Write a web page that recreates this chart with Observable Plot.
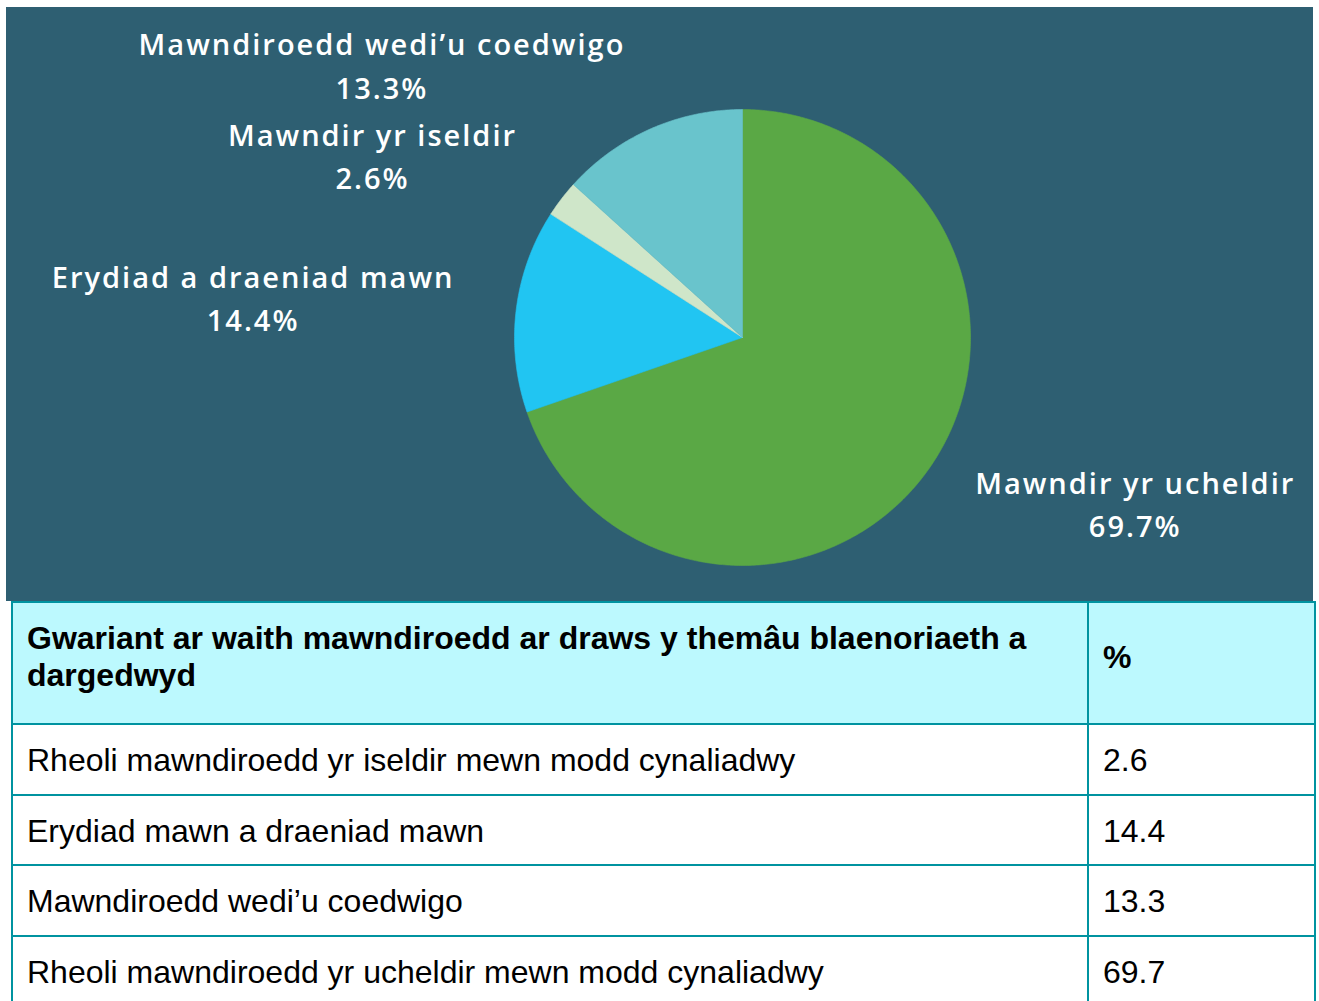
<!DOCTYPE html>
<html>
<head>
<meta charset="utf-8">
<script src="https://cdn.jsdelivr.net/npm/d3@7"></script>
<script src="https://cdn.jsdelivr.net/npm/@observablehq/plot@0.6"></script>
<style>
  html, body { margin: 0; padding: 0; background: #ffffff; }
  #wrap { position: relative; width: 1319px; height: 1001px; overflow: hidden; }
  #chart { position: absolute; left: 6px; top: 7px; }
  #chart svg text { letter-spacing: 2px; }
  table { position: absolute; left: 11px; top: 601px; border-collapse: collapse; table-layout: fixed;
          font-family: "Liberation Sans", Arial, sans-serif; font-size: 32px; color: #000; }
  td, th { border: 2.5px solid #0093a0; padding: 0 14px; text-align: left; vertical-align: middle; }
  td { padding-top: 2px; }
  th { background: #bcf9fe; font-weight: bold; line-height: 37px; padding-bottom: 12px; }
</style>
</head>
<body>
<div id="wrap">
  <div id="chart"></div>
  <table id="tbl"></table>
</div>
<script>
// ---- data ----
const sliceNames = ["Mawndir yr ucheldir", "Erydiad a draeniad mawn", "Mawndir yr iseldir", "Mawndiroedd wedi’u coedwigo"];
const sliceValues = [69.7, 14.4, 2.6, 13.3];
const sliceColors = ["#5aa845", "#21c5f2", "#cfe6c9", "#69c4cc"];

const tableHeader = ["Gwariant ar waith mawndiroedd ar draws y themâu blaenoriaeth a dargedwyd", "%"];
const tableLabels = ["Rheoli mawndiroedd yr iseldir mewn modd cynaliadwy", "Erydiad mawn a draeniad mawn", "Mawndiroedd wedi’u coedwigo", "Rheoli mawndiroedd yr ucheldir mewn modd cynaliadwy"];
const tableValues = ["2.6", "14.4", "13.3", "69.7"];

// ---- layout ----
const W = 1307, H = 594, R = 228, cx = 736, cy = 330;
const labelOffsets = [[207, 32], [-263, -15], [-189, -45], [-268, -66]];

const total = d3.sum(sliceValues);
let acc = 0;
const slices = sliceNames.map((name, i) => {
  const a0 = acc / total * 2 * Math.PI;
  acc += sliceValues[i];
  const a1 = acc / total * 2 * Math.PI;
  return {name, value: sliceValues[i], color: sliceColors[i], a0, a1, am: (a0 + a1) / 2};
});

function wedge(s) {
  const pts = [{x: 0, y: 0}];
  const n = Math.max(8, Math.ceil((s.a1 - s.a0) / 0.01));
  for (let k = 0; k <= n; k++) {
    const a = s.a0 + (s.a1 - s.a0) * k / n;
    pts.push({x: Math.sin(a), y: Math.cos(a)});
  }
  pts.push({x: 0, y: 0});
  return pts;
}

const marks = [];
slices.forEach(s => {
  marks.push(Plot.line(wedge(s), {x: "x", y: "y", fill: s.color, stroke: s.color, strokeWidth: 0.6}));
});
slices.forEach((s, i) => {
  marks.push(Plot.text([s], {
    x: d => Math.sin(d.am), y: d => Math.cos(d.am),
    text: d => `${d.name}\n${d.value}%`,
    dx: labelOffsets[i][0], dy: labelOffsets[i][1],
    fill: "#ffffff", fontSize: 29, lineHeight: 1.49, textAnchor: "middle", lineAnchor: "middle",
    fontFamily: "'Open Sans', Lato, sans-serif", fontWeight: 600
  }));
});

const chart = Plot.plot({
  width: W, height: H, margin: 0,
  x: {domain: [-cx / R, (W - cx) / R], axis: null},
  y: {domain: [-(H - cy) / R, cy / R], axis: null},
  style: {background: "#2e5f72", overflow: "visible"},
  marks
});
document.getElementById("chart").appendChild(chart);

// ---- table ----
const tbl = document.getElementById("tbl");
const colg = document.createElement("colgroup");
[1076, 227].forEach(w => { const c = document.createElement("col"); c.style.width = w + "px"; colg.appendChild(c); });
tbl.appendChild(colg);
const hr = document.createElement("tr");
hr.style.height = "122px";
tableHeader.forEach(t => { const th = document.createElement("th"); th.textContent = t; hr.appendChild(th); });
tbl.appendChild(hr);
const rowH = [71, 70, 71, 70];
tableLabels.forEach((lab, i) => {
  const tr = document.createElement("tr");
  tr.style.height = rowH[i] + "px";
  [lab, tableValues[i]].forEach(t => { const td = document.createElement("td"); td.textContent = t; tr.appendChild(td); });
  tbl.appendChild(tr);
});
</script>
</body>
</html>
